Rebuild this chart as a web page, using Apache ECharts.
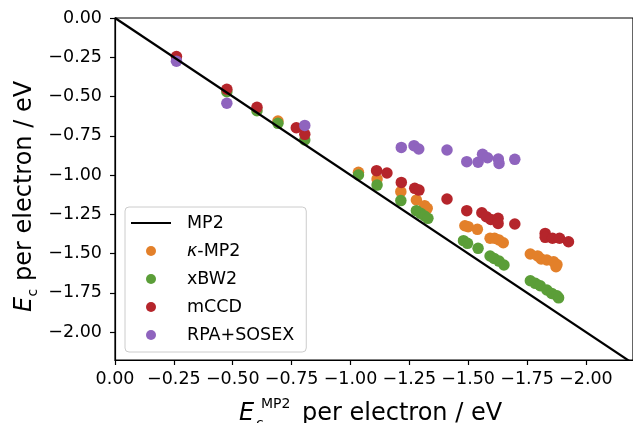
<!DOCTYPE html>
<html>
<head>
<meta charset="utf-8">
<script src="https://cdn.jsdelivr.net/npm/echarts@6/dist/echarts.min.js"></script>
<style>
  html, body { margin: 0; padding: 0; background: #fff; }
  #chart { width: 633px; height: 423px; }
</style>
</head>
<body>
<div id="chart"></div>
<script>
// Correlation energy per electron: each method against the MP2 reference (eV).
const mp2Line = [[0, 0], [-2.3, -2.3]];

const kappaMP2 = [
  [-0.692, -0.656], [-1.034, -0.983], [-1.113, -1.025], [-1.214, -1.106],
  [-1.280, -1.159], [-1.315, -1.195], [-1.326, -1.212], [-1.486, -1.323],
  [-1.500, -1.329], [-1.539, -1.346], [-1.593, -1.403], [-1.612, -1.403],
  [-1.631, -1.414], [-1.649, -1.431], [-1.764, -1.503], [-1.795, -1.515],
  [-1.810, -1.535], [-1.834, -1.541], [-1.863, -1.552], [-1.877, -1.570],
  [-1.873, -1.584]
];

const xBW2 = [
  [-0.475, -0.469], [-0.603, -0.590], [-0.692, -0.671], [-0.806, -0.777],
  [-1.034, -1.000], [-1.113, -1.064], [-1.214, -1.163], [-1.280, -1.227],
  [-1.298, -1.244], [-1.315, -1.261], [-1.329, -1.276], [-1.480, -1.418],
  [-1.497, -1.435], [-1.542, -1.467], [-1.593, -1.516], [-1.610, -1.531],
  [-1.631, -1.548], [-1.652, -1.573], [-1.764, -1.673], [-1.785, -1.690],
  [-1.806, -1.705], [-1.834, -1.732], [-1.855, -1.754], [-1.877, -1.769],
  [-1.884, -1.782]
];

const mCCD = [
  [-0.261, -0.245], [-0.475, -0.454], [-0.603, -0.569], [-0.770, -0.699],
  [-0.806, -0.741], [-1.111, -0.972], [-1.155, -0.987], [-1.216, -1.047],
  [-1.273, -1.085], [-1.291, -1.096], [-1.410, -1.153], [-1.494, -1.227],
  [-1.558, -1.240], [-1.577, -1.265], [-1.596, -1.283], [-1.627, -1.276],
  [-1.627, -1.308], [-1.698, -1.312], [-1.827, -1.372], [-1.827, -1.397],
  [-1.858, -1.403], [-1.888, -1.403], [-1.926, -1.425]
];

const rpaSOSEX = [
  [-0.261, -0.275], [-0.475, -0.543], [-0.806, -0.684], [-1.216, -0.824],
  [-1.270, -0.813], [-1.290, -0.834], [-1.410, -0.841], [-1.494, -0.915],
  [-1.542, -0.919], [-1.561, -0.868], [-1.582, -0.890], [-1.628, -0.898],
  [-1.631, -0.926], [-1.698, -0.900]
];

const tickValues = [0, -0.25, -0.5, -0.75, -1.0, -1.25, -1.5, -1.75, -2.0];
const seriesNames = ['MP2', 'κ-MP2', 'xBW2', 'mCCD', 'RPA+SOSEX'];

const FONT = '"DejaVu Sans", "Liberation Sans", sans-serif';
const COLORS = { orange: '#e3802a', green: '#5b9e38', red: '#b5252b', purple: '#8f64be' };

function tickLabel(v) {
  if (v === 0) return '0.00';
  return (v < 0 ? '\u2212' : '') + Math.abs(v).toFixed(2);
}

const chart = echarts.init(document.getElementById('chart'), null, { renderer: 'canvas' });

const axisCommon = {
  type: 'value',
  axisLine: { show: true, onZero: false, lineStyle: { color: '#000', width: 1.2 } },
  axisTick: { show: true, length: 5, lineStyle: { color: '#000', width: 1.2 }, customValues: tickValues },
  axisLabel: {
    color: '#000', fontFamily: FONT, fontSize: 17.5,
    customValues: tickValues, formatter: tickLabel
  },
  splitLine: { show: false }
};

function scatter(name, data, color) {
  return {
    name, type: 'scatter', data,
    symbol: 'circle', symbolSize: 11.5,
    itemStyle: { color, opacity: 1 },
    emphasis: { disabled: true },
    z: 2
  };
}

chart.setOption({
  animation: false,
  backgroundColor: '#fff',
  grid: {
    left: 115, top: 18, width: 522, height: 342,
    show: true, borderColor: '#000', borderWidth: 1.2, backgroundColor: 'transparent'
  },
  xAxis: Object.assign({}, axisCommon, {
    min: -2.2, max: 0, inverse: true, position: 'bottom',
    axisLabel: Object.assign({}, axisCommon.axisLabel, { margin: 10 })
  }),
  yAxis: Object.assign({}, axisCommon, {
    min: -2.178, max: 0, position: 'left',
    axisLabel: Object.assign({}, axisCommon.axisLabel, { margin: 13 })
  }),
  legend: {
    orient: 'vertical', left: 125, top: 207,
    padding: [7, 8, 8, 6],
    itemGap: 10, itemWidth: 40, itemHeight: 10,
    symbolKeepAspect: true,
    backgroundColor: 'rgba(255,255,255,0.8)',
    borderColor: '#cccccc', borderWidth: 1, borderRadius: 4,
    selectedMode: false,
    textStyle: {
      color: '#000', fontFamily: FONT, fontSize: 17.5, lineHeight: 18,
      padding: [0, 4, 0, 11],
      rich: { i: { fontStyle: 'italic', fontFamily: FONT, fontSize: 17.5, color: '#000' } }
    },
    formatter: name => name === 'κ-MP2' ? '{i|κ}-MP2' : name,
    data: [
      { name: seriesNames[0], icon: 'path://M0,0H40V2.2H0Z', itemStyle: { color: '#000' } },
      { name: seriesNames[1], icon: 'circle' },
      { name: seriesNames[2], icon: 'circle' },
      { name: seriesNames[3], icon: 'circle' },
      { name: seriesNames[4], icon: 'circle' }
    ]
  },
  series: [
    {
      name: seriesNames[0], type: 'line', data: mp2Line,
      symbol: 'none', clip: true,
      lineStyle: { color: '#000', width: 2.2 },
      itemStyle: { color: '#000' },
      emphasis: { disabled: true },
      z: 3
    },
    scatter(seriesNames[1], kappaMP2, COLORS.orange),
    scatter(seriesNames[2], xBW2, COLORS.green),
    scatter(seriesNames[3], mCCD, COLORS.red),
    scatter(seriesNames[4], rpaSOSEX, COLORS.purple)
  ],
  graphic: [
    // x-axis title: E_c^MP2 per electron / eV
    { type: 'text', x: 239, y: 414, style: { text: 'E', font: 'italic 24px ' + FONT, fill: '#000', align: 'left', verticalAlign: 'middle' } },
    { type: 'text', x: 261, y: 404, style: { text: 'MP2', font: '14px ' + FONT, fill: '#000', align: 'left', verticalAlign: 'middle' } },
    { type: 'text', x: 256, y: 424, style: { text: 'c', font: '14px ' + FONT, fill: '#000', align: 'left', verticalAlign: 'middle' } },
    { type: 'text', x: 302, y: 414, style: { text: 'per electron / eV', font: '24px ' + FONT, fill: '#000', align: 'left', verticalAlign: 'middle' } },
    // y-axis title: E_c per electron / eV (rotated)
    { type: 'text', x: 25, y: 312, rotation: Math.PI / 2, style: { text: 'E', font: 'italic 24px ' + FONT, fill: '#000', align: 'left', verticalAlign: 'middle' } },
    { type: 'text', x: 33.5, y: 296.5, rotation: Math.PI / 2, style: { text: 'c', font: '14px ' + FONT, fill: '#000', align: 'left', verticalAlign: 'middle' } },
    { type: 'text', x: 25, y: 281, rotation: Math.PI / 2, style: { text: 'per electron / eV', font: '24px ' + FONT, fill: '#000', align: 'left', verticalAlign: 'middle' } }
  ]
});
</script>
</body>
</html>
